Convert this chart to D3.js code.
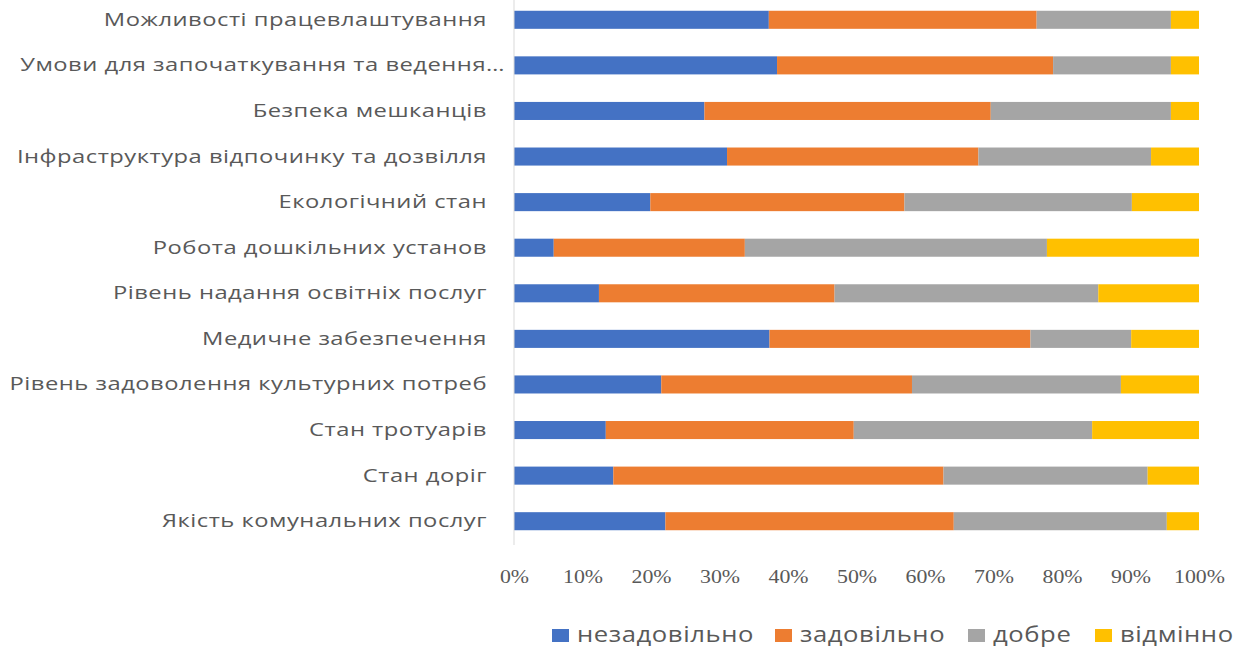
<!DOCTYPE html>
<html>
<head>
<meta charset="utf-8">
<script src="https://cdn.jsdelivr.net/npm/d3@7"></script>
<style>
  html, body { margin: 0; padding: 0; background: #fff; }
  svg { display: block; }
</style>
</head>
<body>
<svg id="chart" width="1253" height="648"></svg>
<script>
// Survey categories, top to bottom
const categories = [
  "Можливості працевлаштування",
  "Умови для започаткування та ведення…",
  "Безпека мешканців",
  "Інфраструктура відпочинку та дозвілля",
  "Екологічний стан",
  "Робота дошкільних установ",
  "Рівень надання освітніх послуг",
  "Медичне забезпечення",
  "Рівень задоволення культурних потреб",
  "Стан тротуарів",
  "Стан доріг",
  "Якість комунальних послуг"
];

// Share of answers per category (%)
const unsatisfactory = [37.2, 38.4, 27.8, 31.1, 19.9, 5.8, 12.4, 37.3, 21.5, 13.4, 14.5, 22.1];
const satisfactory   = [39.1, 40.3, 41.8, 36.7, 37.1, 27.9, 34.4, 38.1, 36.6, 36.2, 48.2, 42.1];
const good           = [19.6, 17.2, 26.3, 25.2, 33.2, 44.1, 38.5, 14.7, 30.5, 34.8, 29.8, 31.1];
const excellent      = [4.1, 4.1, 4.1, 7.0, 9.8, 22.2, 14.7, 9.9, 11.4, 15.6, 7.5, 4.7];

const seriesNames = ["незадовільно", "задовільно", "добре", "відмінно"];
const seriesColors = ["#4472C4", "#ED7D31", "#A5A5A5", "#FFC000"];
const tickValues = [0, 0.1, 0.2, 0.3, 0.4, 0.5, 0.6, 0.7, 0.8, 0.9, 1.0];

const rows = categories.map((c, i) => ({
  category: c,
  s0: unsatisfactory[i], s1: satisfactory[i], s2: good[i], s3: excellent[i]
}));
const keys = ["s0", "s1", "s2", "s3"];

const stacked = d3.stack().keys(keys).offset(d3.stackOffsetExpand)(rows);

const svg = d3.select("#chart");
const plotLeft = 514, plotRight = 1199, plotTop = -3, plotBottom = 544;
const textColor = "#595959";

const x = d3.scaleLinear().domain([0, 1]).range([plotLeft, plotRight]);
const y = d3.scaleBand().domain(categories).range([plotTop, plotBottom])
  .paddingInner(0.604).paddingOuter(0.302);

// Stacked bars
svg.append("g").selectAll("g")
  .data(stacked)
  .join("g")
  .attr("fill", (d, i) => seriesColors[i])
  .selectAll("rect")
  .data(d => d.map(v => ({ v, cat: v.data.category })))
  .join("rect")
  .attr("x", d => x(d.v[0]))
  .attr("width", d => x(d.v[1]) - x(d.v[0]))
  .attr("y", d => y(d.cat))
  .attr("height", y.bandwidth());

// Category axis line
svg.append("line")
  .attr("x1", plotLeft).attr("x2", plotLeft)
  .attr("y1", 0).attr("y2", plotBottom + 1)
  .attr("stroke", "#D9D9D9").attr("stroke-width", 1);

// Category labels (wide letterforms); a truncated label runs closer to the axis
svg.append("g").selectAll("text")
  .data(categories)
  .join("text")
  .attr("transform", d => {
    const gap = d.endsWith("…") ? 9 : 27;
    return `translate(${plotLeft - gap}, ${y(d) + y.bandwidth() / 2 + 6}) scale(1.25, 1)`;
  })
  .attr("text-anchor", "end")
  .attr("fill", textColor)
  .style("font-family", "'Open Sans', sans-serif")
  .style("font-size", "19px")
  .style("letter-spacing", "0.4px")
  .text(d => d);

// Percentage axis
const xAxis = d3.axisBottom(x).tickValues(tickValues).tickFormat(d3.format(".0%")).tickSize(0);
const gx = svg.append("g").attr("transform", "translate(0, 583)").call(xAxis);
gx.select(".domain").remove();
gx.selectAll("text")
  .attr("y", 0).attr("dy", 0)
  .attr("transform", "scale(1.15, 1)")
  .attr("fill", textColor)
  .style("font-family", "'Liberation Serif', serif")
  .style("font-size", "19px");

// Legend
const legendItems = [
  { name: seriesNames[0], color: seriesColors[0], x: 552 },
  { name: seriesNames[1], color: seriesColors[1], x: 775 },
  { name: seriesNames[2], color: seriesColors[2], x: 968 },
  { name: seriesNames[3], color: seriesColors[3], x: 1095 }
];
const lg = svg.append("g").selectAll("g").data(legendItems).join("g")
  .attr("transform", d => `translate(${d.x}, 642)`);
lg.append("rect").attr("x", 0).attr("y", -13).attr("width", 17).attr("height", 13).attr("fill", d => d.color);
lg.append("text")
  .attr("transform", "translate(25, 0) scale(1.165, 1)")
  .attr("fill", textColor)
  .style("font-family", "'Open Sans', sans-serif")
  .style("font-size", "22px")
  .style("letter-spacing", "0.5px")
  .text(d => d.name);
</script>
</body>
</html>
